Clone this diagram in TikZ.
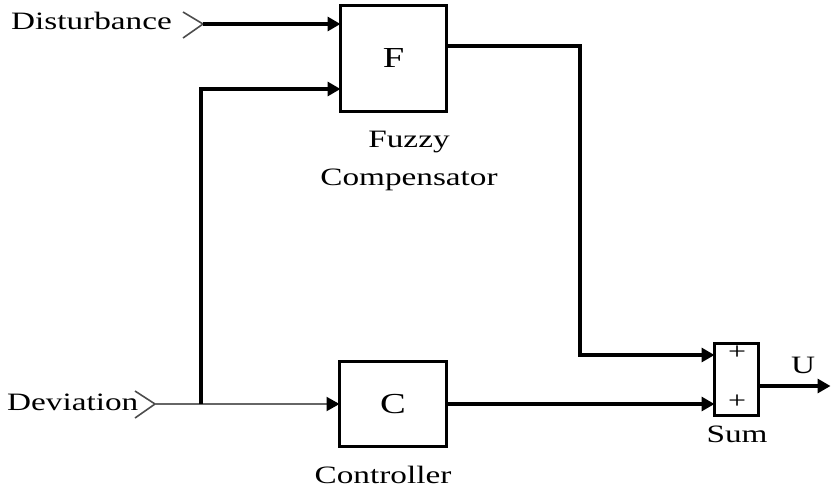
\documentclass[tikz,border=0pt]{standalone}
\usepackage{fontspec}
\setmainfont[FakeStretch=1.33]{Liberation Serif}
\usetikzlibrary{arrows.meta}
\begin{document}
\begin{tikzpicture}[x=1pt,y=-1pt,
  blk/.style={draw, line width=3.4pt, inner sep=0pt, outer sep=0pt, font=\fontsize{29}{34}\selectfont},
  sig/.style={line width=3.2pt, -{Triangle[length=13pt,width=14pt]}},
  devline/.style={line width=2.2pt, draw=gray!80!black, -{Triangle[length=13pt,width=14pt,color=black]}},
  lbl/.style={font=\fontsize{25}{30}\selectfont, inner sep=0pt},
  port/.style={draw=gray!60!black, line width=1.6pt},
  pls/.style={font=\fontsize{24}{28}\selectfont, inner sep=0pt}]
\useasboundingbox (0,0) rectangle (834,487);

% blocks
\node[blk, minimum width=106pt, minimum height=106pt] (F) at (393.5,58.5) {F};
\node[blk, minimum width=107pt, minimum height=85pt] (C) at (393,404) {C};
\node[blk, minimum width=44pt, minimum height=72pt] (S) at (736.5,379.5) {};

% ports
\coordinate (dtip) at (203,24);
\coordinate (vtip) at (155,404);
\coordinate (br) at (201,404);
\draw[port] (183,12) -- (dtip) -- (183,38);
\draw[port] (135,391) -- (vtip) -- (135,418);

% labels
\node[lbl, anchor=base east] (dl) at (172,30) {Disturbance};
\node[lbl, anchor=base west] (vl) at (7,410) {Deviation};
\node[lbl, anchor=base] (fl1) at (409,147) {Fuzzy};
\node[lbl, anchor=base] (fl2) at (409,185) {Compensator};
\node[lbl, anchor=base] (cl) at (383,483) {Controller};
\node[lbl, anchor=base] (sl) at (737,442) {Sum};
\node[lbl, anchor=base] (ul) at (803,373) {U};
\node[pls] (p1) at (737,353) {+};
\node[pls] (p2) at (737,402) {+};

% connectors
\draw[sig] (dtip) -- (dtip -| F.west);
\draw[devline] (vtip) -- (C.west);
\draw[sig] (br) |- ([yshift=-30.5pt]F.west);
\draw[sig] ([yshift=12.5pt]F.east) -| (580,355) -- ([yshift=24.5pt]S.west);
\draw[sig] (C.east) -- (C.east -| S.west);
\draw[sig] ([yshift=-6.5pt]S.east) -- ++(72,0);
\end{tikzpicture}
\end{document}
